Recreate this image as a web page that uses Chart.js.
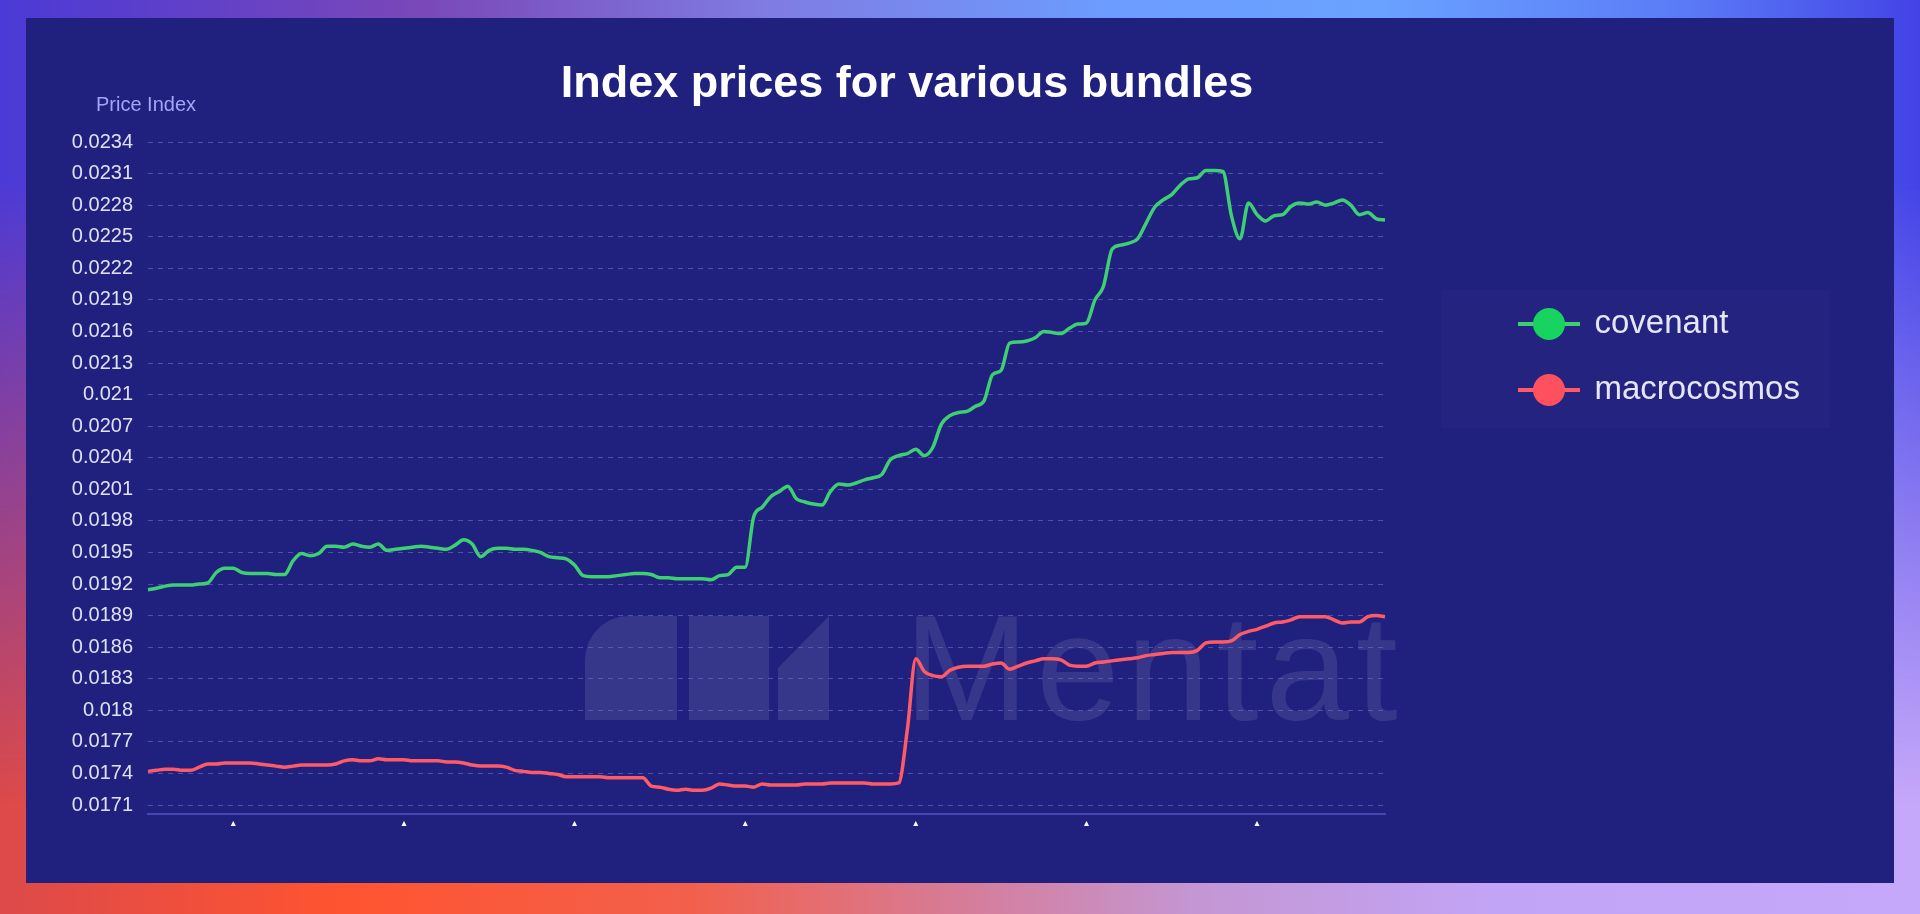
<!DOCTYPE html>
<html lang="en">

<head>
    <meta charset="UTF-8">
    <meta name="viewport" content="width=device-width, initial-scale=1.0">
    <title>Index prices for various bundles</title>
    <script src="https://cdn.jsdelivr.net/npm/chart.js@4.4.1/dist/chart.umd.min.js"></script>
    <style>
        html, body {
            margin: 0;
            padding: 0;
            width: 1920px;
            height: 914px;
            overflow: hidden;
        }

        .bg-bottom, .bg-top {
            position: absolute;
            left: 0;
            top: 0;
            width: 1920px;
            height: 914px;
        }

        .bg-bottom {
            background: linear-gradient(90deg, #dc4a4a 0%, #ff5430 18%, #f2604c 36%, #d67c98 50%, #c496d2 62%, #c2a4f6 78%, #c6a8fa 100%);
        }

        .bg-top {
            background: linear-gradient(90deg, #4b3ad6 0%, #7a48b8 22%, #7f7ce2 40%, #6c9cff 58%, #6aa2ff 72%, #5a7af6 88%, #4343e6 100%);
            -webkit-mask-image: linear-gradient(to bottom, #000 0%, #000 20%, transparent 88%);
            mask-image: linear-gradient(to bottom, #000 0%, #000 20%, transparent 88%);
        }

        .panel {
            position: absolute;
            left: 26px;
            top: 18px;
            width: 1868px;
            height: 865px;
            background-color: #20207e;
        }
    </style>
</head>

<body>
    <div class="bg-bottom"></div>
    <div class="bg-top"></div>
    <div class="panel">
        <canvas id="myChart"></canvas>
    </div>
    <script>
        // values
        const seriesNames = ['covenant', 'macrocosmos'];
        const yAxisName = 'Price Index';

        const covenant = [
            0.019146, 0.01916, 0.01918, 0.01919, 0.01919, 0.01919, 0.01920, 0.01921, 0.01931, 0.01935,
            0.01935, 0.01931, 0.01930, 0.01930, 0.01930, 0.01929, 0.01929, 0.01942, 0.01949, 0.01947,
            0.01949, 0.01956, 0.01956, 0.01955, 0.01958, 0.01956, 0.01955, 0.01958, 0.01952, 0.01953,
            0.01954, 0.01955, 0.01956, 0.01955, 0.01954, 0.01953, 0.01957, 0.01962, 0.01958, 0.01946,
            0.01952, 0.01954, 0.01954, 0.01953, 0.01953, 0.01952, 0.01950, 0.01946, 0.01945, 0.01944,
            0.01938, 0.01928, 0.01927, 0.01927, 0.01927, 0.01928, 0.01929, 0.01930, 0.01930, 0.01929,
            0.01926, 0.01926, 0.01925, 0.01925, 0.01925, 0.01925, 0.01924, 0.01928, 0.01929, 0.01936,
            0.01936, 0.01984, 0.01993, 0.02003, 0.02008, 0.02013, 0.02001, 0.01998, 0.01996, 0.01995,
            0.02008, 0.02015, 0.02014, 0.02016, 0.02019, 0.02021, 0.02024, 0.02038, 0.02042, 0.02044,
            0.02048, 0.02042, 0.02050, 0.02072, 0.02080, 0.02083, 0.02084, 0.02089, 0.02094, 0.02119,
            0.02123, 0.02149, 0.02150, 0.02151, 0.02154, 0.02160, 0.02159, 0.02158, 0.02163, 0.02167,
            0.02168, 0.02190, 0.02203, 0.02238, 0.02242, 0.02244, 0.02248, 0.02263, 0.02278, 0.02285,
            0.02290, 0.02299, 0.02305, 0.02306, 0.02313, 0.02313, 0.02312, 0.02270, 0.02248, 0.02282,
            0.02271, 0.02265, 0.02270, 0.02271, 0.02279, 0.02282, 0.02281, 0.02283, 0.02280, 0.02282,
            0.02285, 0.02280, 0.02271, 0.02273, 0.02267, 0.02266
        ];

        const macrocosmos = [
            0.01742, 0.01743, 0.01744, 0.01744, 0.01743, 0.01743, 0.01746, 0.01749, 0.01749, 0.01750,
            0.01750, 0.01750, 0.01750, 0.01749, 0.01748, 0.01747, 0.01746, 0.01747, 0.01748, 0.01748,
            0.01748, 0.01748, 0.01749, 0.01752, 0.01753, 0.01752, 0.01752, 0.01754, 0.01753, 0.01753,
            0.01753, 0.01752, 0.01752, 0.01752, 0.01752, 0.01751, 0.01751, 0.01750, 0.01748, 0.01747,
            0.01747, 0.01747, 0.01746, 0.01743, 0.01742, 0.01741, 0.01741, 0.01740, 0.01739, 0.01737,
            0.01737, 0.01737, 0.01737, 0.01737, 0.01736, 0.01736, 0.01736, 0.01736, 0.01736, 0.01728,
            0.01727, 0.01725, 0.01724, 0.01725, 0.01724, 0.01724, 0.01726, 0.01730, 0.01729, 0.01728,
            0.01728, 0.01727, 0.01730, 0.01729, 0.01729, 0.01729, 0.01729, 0.01730, 0.01730, 0.01730,
            0.01731, 0.01731, 0.01731, 0.01731, 0.01731, 0.01730, 0.01730, 0.01730, 0.01731, 0.01781,
            0.01849, 0.01837, 0.01833, 0.01832, 0.01838, 0.01841, 0.01842, 0.01842, 0.01842, 0.01844,
            0.01845, 0.01839, 0.01842, 0.01845, 0.01847, 0.01849, 0.01849, 0.01848, 0.01843, 0.01842,
            0.01842, 0.01845, 0.01846, 0.01847, 0.01848, 0.01849, 0.01850, 0.01852, 0.01853, 0.01854,
            0.01855, 0.01855, 0.01855, 0.01857, 0.01864, 0.01865, 0.01865, 0.01866, 0.01872, 0.01875,
            0.01877, 0.01880, 0.01883, 0.01884, 0.01886, 0.01889, 0.01889, 0.01889, 0.01889, 0.01886,
            0.01883, 0.01884, 0.01884, 0.01889, 0.01890, 0.01889
        ];

        // one category per sample, the x labels themselves are not readable in the picture
        const categories = covenant.map(function (v, i) { return String(i); });
        const xMarkIndexes = [10, 30, 50, 70, 90, 110, 130];

        const yTicks = [
            0.0171, 0.0174, 0.0177, 0.018, 0.0183, 0.0186, 0.0189, 0.0192, 0.0195, 0.0198, 0.0201,
            0.0204, 0.0207, 0.021, 0.0213, 0.0216, 0.0219, 0.0222, 0.0225, 0.0228, 0.0231, 0.0234
        ];

        const lineColors = ['#3fcf73', '#ff5b67'];
        const dotColors = ['#16d45f', '#ff5060'];
        const FONT = "'Liberation Sans', Arial, Helvetica, sans-serif";

        // line + dot icon for the legend
        function legendIcon(lineColor, dotColor) {
            const c = document.createElement('canvas');
            c.width = 62;
            c.height = 34;
            const g = c.getContext('2d');
            g.strokeStyle = lineColor;
            g.lineWidth = 4;
            g.beginPath();
            g.moveTo(0, 17);
            g.lineTo(62, 17);
            g.stroke();
            g.fillStyle = dotColor;
            g.beginPath();
            g.arc(31, 17, 16, 0, Math.PI * 2);
            g.fill();
            return c;
        }

        const decorPlugin = {
            id: 'decor',
            afterLayout: function (chart) {
                const lg = chart.legend;
                const left = chart.chartArea.right + 102;
                lg.left = left;
                lg.right = left + 420;
                lg.top = 256.5;
                lg.bottom = 256.5 + 300;
                lg.width = 420;
                lg.height = 300;
            },
            beforeDraw: function (chart) {
                const ctx = chart.ctx;
                const lg = chart.legend;
                ctx.save();
                // legend panel
                ctx.fillStyle = 'rgba(255,255,255,0.018)';
                ctx.fillRect(lg.left - 46, lg.top + 15.5, 389, 138);
                // axis name
                ctx.fillStyle = '#a3a6f6';
                ctx.font = '20px ' + FONT;
                ctx.textBaseline = 'middle';
                ctx.textAlign = 'left';
                ctx.fillText(yAxisName, 70, 87);
                // watermark
                ctx.fillStyle = 'rgba(255,255,255,0.10)';
                ctx.beginPath();
                ctx.roundRect(559, 598, 92, 104, [44, 0, 0, 0]);
                ctx.fill();
                ctx.fillRect(663, 598, 80, 104);
                ctx.beginPath();
                ctx.moveTo(752, 702);
                ctx.lineTo(752, 650);
                ctx.lineTo(803, 598);
                ctx.lineTo(803, 702);
                ctx.closePath();
                ctx.fill();
                ctx.font = '150px ' + FONT;
                ctx.letterSpacing = '7px';
                ctx.textBaseline = 'alphabetic';
                ctx.fillText('Mentat', 878, 702);
                ctx.restore();
            }
        };

        const ctx = document.getElementById('myChart').getContext('2d');
        const myChart = new Chart(ctx, {
            type: 'line',
            data: {
                labels: categories,
                datasets: [{
                    label: seriesNames[0],
                    data: covenant,
                    borderColor: lineColors[0],
                    borderWidth: 3.5,
                    pointRadius: 0,
                    borderJoinStyle: 'round',
                    cubicInterpolationMode: 'monotone'
                }, {
                    label: seriesNames[1],
                    data: macrocosmos,
                    borderColor: lineColors[1],
                    borderWidth: 3.5,
                    pointRadius: 0,
                    borderJoinStyle: 'round',
                    cubicInterpolationMode: 'monotone'
                }]
            },
            options: {
                responsive: true,
                maintainAspectRatio: false,
                animation: false,
                layout: {
                    padding: { left: 20, right: 126, top: 0, bottom: 0 }
                },
                plugins: {
                    title: {
                        display: true,
                        text: 'Index prices for various bundles',
                        color: '#ffffff',
                        font: { family: FONT, size: 45, weight: 'bold', lineHeight: 0.5 },
                        padding: { top: 55.75, bottom: 35.25 }
                    },
                    legend: {
                        position: 'right',
                        align: 'start',
                        maxWidth: 280,
                        labels: {
                            usePointStyle: true,
                            pointStyleWidth: 58,
                            padding: 33,
                            color: '#e6e6fb',
                            font: { family: FONT, size: 33 },
                            generateLabels: function (chart) {
                                return chart.data.datasets.map(function (ds, i) {
                                    return {
                                        text: ds.label,
                                        pointStyle: legendIcon(lineColors[i], dotColors[i]),
                                        fillStyle: dotColors[i],
                                        strokeStyle: lineColors[i],
                                        lineWidth: 0,
                                        fontColor: '#e6e6fb',
                                        hidden: false,
                                        datasetIndex: i
                                    };
                                });
                            }
                        }
                    },
                    tooltip: { enabled: false }
                },
                scales: {
                    x: {
                        grid: { display: false, drawTicks: false },
                        border: { display: true, color: '#4747b4', width: 2 },
                        ticks: {
                            autoSkip: false,
                            maxRotation: 0,
                            padding: 3,
                            color: '#ffffff',
                            font: { family: 'DejaVu Sans', size: 10 },
                            callback: function (val, i) {
                                return xMarkIndexes.indexOf(i) >= 0 ? '\u25B4' : '';
                            }
                        },
                        afterFit: function (scale) { scale.height = 69; }
                    },
                    y: {
                        min: 0.017015,
                        max: 0.0235,
                        grid: { color: 'rgba(112,112,205,0.6)', lineWidth: 1, drawTicks: false },
                        border: { display: false, dash: [5, 5] },
                        ticks: {
                            padding: 15,
                            color: '#e0e0f7',
                            font: { family: FONT, size: 20 },
                            callback: function (v) { return String(Number(v.toFixed(4))); }
                        },
                        afterBuildTicks: function (scale) {
                            scale.ticks = yTicks.map(function (v) { return { value: v }; });
                        },
                        afterFit: function (scale) { scale.width = 102; }
                    },
                    yRight: {
                        position: 'right',
                        display: true,
                        grid: { display: false, drawTicks: false },
                        border: { display: false },
                        ticks: { display: false },
                        afterFit: function (scale) { scale.width = 103; }
                    }
                }
            },
            plugins: [decorPlugin]
        });
    </script>

</body>

</html>
